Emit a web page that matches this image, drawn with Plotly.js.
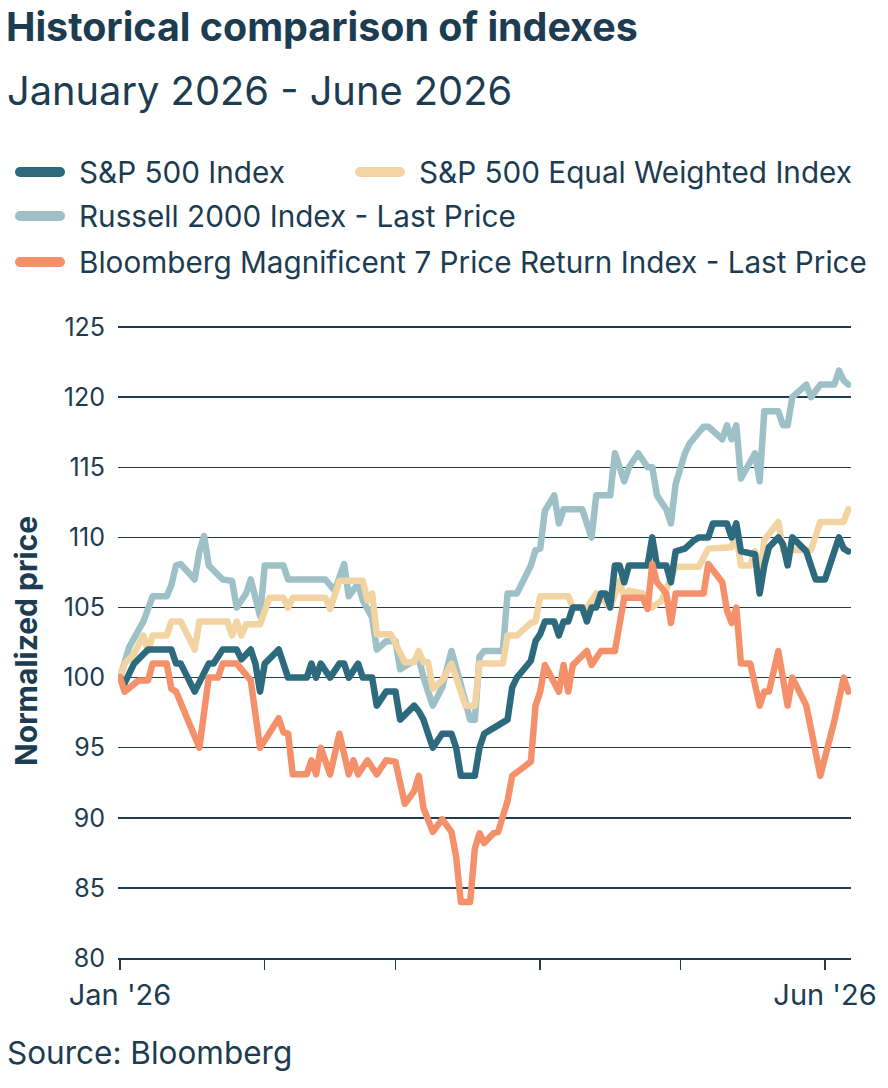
<!DOCTYPE html>
<html><head><meta charset="utf-8">
<script src="https://cdn.plot.ly/plotly-3.0.1.min.js"></script>
<style>
html,body{margin:0;padding:0;background:#fff;}
#chart{width:888px;height:1088px;}
.scatterlayer .js-line{stroke-linejoin:round;stroke-linecap:round;}
.shapelayer path{stroke-linecap:round;}
</style></head><body><div id="chart"></div>
<script>
const YEAR = '2026';
const seriesNames = ['S&P 500 Index', 'S&P 500 Equal Weighted Index', 'Russell 2000 Index - Last Price', 'Bloomberg Magnificent 7 Price Return Index - Last Price'];

const sp500Dates = ['01-01','01-02','01-04','01-07','01-12','01-13','01-14','01-17','01-20','01-21','01-23','01-26','01-27','01-29','01-30','01-31','02-01','02-04','02-05','02-06','02-10','02-11','02-12','02-13','02-15','02-17','02-18','02-19','02-21','02-22','02-24','02-25','02-27','03-01','03-02','03-05','03-06','03-07','03-09','03-11','03-13','03-14','03-15','03-18','03-19','03-20','03-21','03-25','03-26','03-27','03-28','03-30','03-31','04-01','04-02','04-04','04-05','04-06','04-07','04-08','04-10','04-11','04-12','04-13','04-14','04-15','04-16','04-17','04-18','04-19','04-20','04-24','04-25','04-26','04-28','04-29','04-30','05-02','05-04','05-05','05-07','05-08','05-11','05-12','05-13','05-14','05-17','05-18','05-19','05-20','05-22','05-23','05-24','05-25','05-28','05-30','06-01','06-04','06-05','06-06'];
const sp500Values = [100,99.6,101,102,102,101,101,99,101,101,102,102,101.3,102,101,99,101,102,101,100,100,101,100,101,100,101,101,100,101,100,100,98,99,99,97,98,97.6,97,95,96,96,95,93,93,95,96,96.2,97,99.3,100,100.4,101.2,102.6,103.1,104,104,103,104,104,105,105,104,105,105,106,106,105,108,108,106.8,108,108,110,108,108,106.8,109,109.2,109.8,110,110,111,111,110,111,109,108.8,106,108,109.3,110,109.5,108,110,109,107,107,110,109.2,109];

const equalWeightDates = ['01-01','01-02','01-04','01-06','01-07','01-08','01-11','01-12','01-14','01-17','01-18','01-24','01-25','01-26','01-27','01-28','01-31','02-01','02-02','02-05','02-06','02-07','02-14','02-15','02-17','02-22','02-23','02-24','02-25','02-28','03-03','03-05','03-06','03-07','03-08','03-09','03-11','03-13','03-15','03-16','03-18','03-19','03-24','03-25','03-27','03-30','03-31','04-01','04-07','04-08','04-11','04-13','04-16','04-18','04-19','04-20','04-23','04-25','04-27','04-30','05-05','05-07','05-12','05-13','05-14','05-16','05-17','05-18','05-19','05-22','05-23','05-29','05-31','06-05','06-06'];
const equalWeightValues = [100,101,101.7,103,101.9,103,103,104,104,102,104,104,103,104,103,103.8,103.8,104.8,105.7,105.7,105,105.7,105.7,104.9,106.9,106.9,105.5,106,103.1,103.1,101.1,101.1,101.9,101.1,101.1,99.2,99.8,101,99,98,98,101,101,103,103,103.9,104,105.8,105.8,105,105,106,105,106.9,105.7,106.2,106,105,105.5,107.9,107.9,109.2,109.3,110.2,108,108,109,107,109.8,111.1,109.1,109.1,111.1,111.1,112];

const russellDates = ['01-01','01-03','01-06','01-08','01-11','01-12','01-13','01-14','01-17','01-18','01-19','01-20','01-23','01-25','01-26','01-28','01-29','01-31','02-01','02-05','02-06','02-14','02-16','02-18','02-19','02-21','02-22','02-24','02-25','02-27','03-01','03-02','03-04','03-06','03-07','03-09','03-11','03-13','03-15','03-17','03-18','03-19','03-20','03-24','03-25','03-27','03-30','03-31','04-01','04-02','04-04','04-05','04-06','04-10','04-12','04-13','04-16','04-17','04-19','04-20','04-22','04-24','04-25','04-26','04-28','04-29','04-30','05-02','05-03','05-06','05-07','05-10','05-11','05-12','05-13','05-14','05-17','05-18','05-19','05-22','05-23','05-24','05-25','05-28','05-29','05-31','06-03','06-04','06-05','06-06'];
const russellValues = [100,102.2,104,105.8,105.8,106.6,108,108.1,107,109,110.1,108,107,106.9,105,106,107,104.4,108,108,107,107,106.2,108.1,105.8,106.7,105.5,104.3,102,102.6,102.6,100.6,101,101.4,100,98,99.3,101.9,99.5,97,97,101.5,101.9,101.9,106,106,108,109.1,109.2,111.9,113,111,112,112,110,113,113,116,114,115,116,115,115,113,112,111,113.8,116,116.7,117.9,117.9,117,118,117,118,114.2,116,114,119,119,118,118,120,120.9,120,120.9,120.9,121.9,121.2,120.9];

const mag7Dates = ['01-01','01-02','01-05','01-07','01-08','01-11','01-12','01-13','01-18','01-20','01-22','01-23','01-26','01-28','01-29','01-31','02-02','02-04','02-05','02-06','02-07','02-10','02-11','02-12','02-13','02-15','02-17','02-19','02-20','02-21','02-23','02-25','02-27','03-01','03-03','03-05','03-06','03-07','03-09','03-11','03-13','03-14','03-15','03-17','03-18','03-19','03-20','03-22','03-23','03-25','03-26','03-30','03-31','04-01','04-02','04-05','04-06','04-07','04-08','04-11','04-12','04-14','04-17','04-18','04-19','04-23','04-24','04-25','04-26','04-28','04-29','04-30','05-06','05-07','05-10','05-11','05-12','05-13','05-14','05-16','05-18','05-19','05-20','05-22','05-24','05-25','05-28','05-31','06-03','06-05','06-06'];
const mag7Values = [100,99,99.8,99.8,101,101,99.2,99,95,100,100,101,101,100.3,99.8,95,96,97.1,96.1,96,93.1,93.1,94.1,93.1,95,93.1,96,93.1,94.1,93.1,94.1,93.1,94.1,94,91,91.9,93,90.7,89,89.9,89,87.2,84,84,87.8,88.9,88.2,88.9,89,91.2,93,94,98,99,100.9,99,100.9,99,100.9,101.9,100.9,101.9,101.9,103.8,105.7,105.7,104.9,108.1,106.8,106,103.9,106,106,108.1,106.8,104.8,103.9,105,101,101,98,99,99,101.9,98,100,98,93,96.9,100,99];

const yTickValues = [80,85,90,95,100,105,110,115,120,125];
const xTickValues = ['01-01','02-01','03-01','04-01','05-01','06-01'];
const xTickLabels = ["Jan '26",'','','','',"Jun '26"];

const TEXT = '#1c3c51';
const GRID = '#1f3d52';
const COLORS = {sp: '#2e6a7e', ew: '#f2d4a2', ru: '#9dc1c6', m7: '#f5916a'};
const FONT = 'Inter, "Noto Sans", sans-serif';

const full = arr => arr.map(d => YEAR + '-' + d);

function trace(dates, values, name, color) {
  return {type: 'scatter', mode: 'lines', x: full(dates), y: values, name: name,
    line: {color: color, width: 6.5}, showlegend: false, hoverinfo: 'skip'};
}

const data = [
  trace(russellDates, russellValues, seriesNames[2], COLORS.ru),
  trace(equalWeightDates, equalWeightValues, seriesNames[1], COLORS.ew),
  trace(sp500Dates, sp500Values, seriesNames[0], COLORS.sp),
  trace(mag7Dates, mag7Values, seriesNames[3], COLORS.m7)
];

// layout geometry (pixels)
const W = 888, H = 1088, L = 118, R = 851, T = 324, B = 958;
const px = p => (p - L) / (R - L);
const py = p => (B - p) / (B - T);

const legendItems = [
  {name: seriesNames[0], color: COLORS.sp, x: 15, y: 172},
  {name: seriesNames[1], color: COLORS.ew, x: 355, y: 172},
  {name: seriesNames[2], color: COLORS.ru, x: 15, y: 216},
  {name: seriesNames[3], color: COLORS.m7, x: 15, y: 262}
];

const shapes = legendItems.map(it => ({type: 'line', xref: 'paper', yref: 'paper',
  x0: px(it.x + 5), x1: px(it.x + 45), y0: py(it.y), y1: py(it.y),
  line: {color: it.color, width: 10}}));

const annotations = legendItems.map(it => ({xref: 'paper', yref: 'paper',
  x: px(it.x + 62), y: py(it.y), xanchor: 'left', yanchor: 'middle', showarrow: false,
  text: it.name, font: {family: FONT, size: 29.7, color: TEXT}}));

annotations.push({xref: 'paper', yref: 'paper', x: px(5), y: py(90), xanchor: 'left', yanchor: 'middle',
  showarrow: false, text: 'January 2026 - June 2026', font: {family: FONT, size: 39.8, color: TEXT}});
annotations.push({xref: 'paper', yref: 'paper', x: px(5), y: py(1052), xanchor: 'left', yanchor: 'middle',
  showarrow: false, text: 'Source: Bloomberg', font: {family: FONT, size: 31.5, color: TEXT}});

const layout = {
  width: W, height: H,
  margin: {l: L, r: W - R, t: T, b: H - B, pad: 0},
  paper_bgcolor: '#fff', plot_bgcolor: '#fff',
  font: {family: FONT, color: TEXT},
  title: {text: '<b>Historical comparison of indexes</b>', xref: 'container', yref: 'container',
    x: 6 / W, xanchor: 'left', y: 1 - 27 / H, yanchor: 'middle',
    font: {family: FONT, size: 39.4, color: TEXT}},
  xaxis: {type: 'date', range: ['2025-12-31 13:40', '2026-06-06 13:40'],
    tickmode: 'array', tickvals: full(xTickValues), ticktext: xTickLabels,
    showgrid: false, zeroline: false, showline: true, linecolor: GRID, linewidth: 2,
    ticks: 'outside', ticklen: 10, tickwidth: 1.5, tickcolor: GRID,
    tickfont: {family: FONT, size: 29, color: TEXT}, fixedrange: true},
  yaxis: {range: [80, 80 + (B - T) / 14.02], tickmode: 'array', tickvals: yTickValues,
    showgrid: true, gridcolor: GRID, gridwidth: 1.5, zeroline: false, showline: false,
    ticks: '', ticklabelstandoff: 12,
    tickfont: {family: FONT, size: 25, color: TEXT},
    title: {text: 'Normalized price', standoff: 16, font: {family: FONT, size: 30, color: TEXT, weight: 700}},
    fixedrange: true},
  shapes: shapes,
  annotations: annotations,
  showlegend: false
};

Plotly.newPlot('chart', data, layout, {displayModeBar: false, staticPlot: true});
</script></body></html>
